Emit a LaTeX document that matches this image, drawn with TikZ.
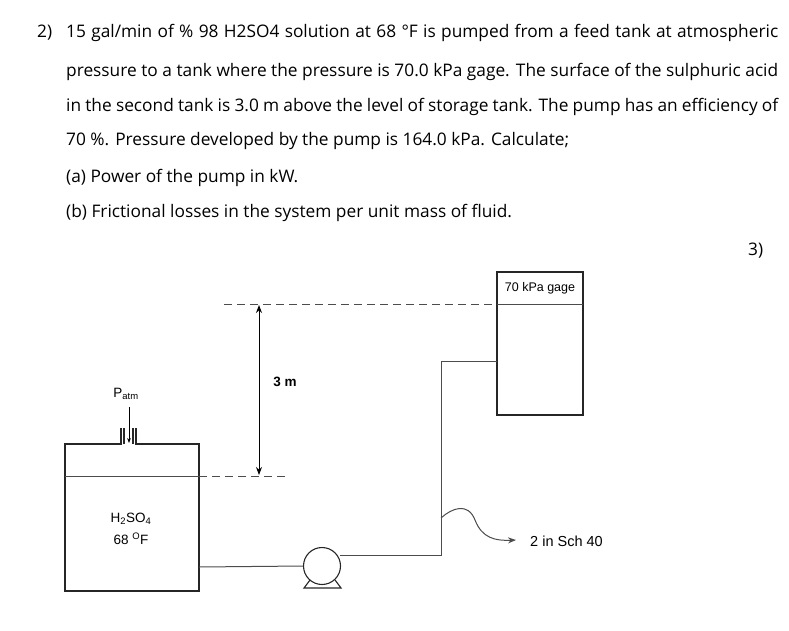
\documentclass[tikz,border=0pt]{standalone}
\usepackage{fontspec}
\setmainfont{Open Sans}
\newfontfamily\arial{Liberation Sans}
\usetikzlibrary{arrows.meta}
\begin{document}
\begin{tikzpicture}[x=1pt,y=-1pt,
  txt/.style={anchor=west,inner sep=0pt,font=\fontsize{17.3}{20}\selectfont},
  lbl/.style={inner sep=0pt,font=\arial\fontsize{13.5}{15}\selectfont},
  pipe/.style={draw=black!70,line width=1pt},
  dashln/.style={draw=black!70,dash pattern=on 8pt off 5pt,line width=1pt},
  box/.style={draw=black!85,line width=1.1pt}]
\useasboundingbox (0,0) rectangle (789,631);
\node[txt] (n2) at (37,33) {2)};
\node[txt] (l1) at (66,33) {\makebox[712pt][s]{15 gal/min of \% 98 H2SO4 solution at 68 °F is pumped from a feed tank at atmospheric}};
\node[txt] (l2) at (66,72) {\makebox[712pt][s]{pressure to a tank where the pressure is 70.0 kPa gage. The surface of the sulphuric acid}};
\node[txt] (l3) at (66,107) {\makebox[712pt][s]{in the second tank is 3.0 m above the level of storage tank. The pump has an efficiency of}};
\node[txt] (l4) at (66,141) {70 \%. Pressure developed by the pump is 164.0 kPa. Calculate;};
\node[txt] (l5) at (66,178) {(a) Power of the pump in kW.};
\node[txt] (l6) at (66,213) {(b) Frictional losses in the system per unit mass of fluid.};
\node[txt] (n3) at (748,251) {3)};
% left tank
\draw[box] (65,444) rectangle (199,591);
\draw[pipe] (65,476) -- (199,476);
\draw[draw=white,line width=2pt] (122,444) -- (135,444);
\draw[box] (121,444) -- (121,428) (124,444)--(124,428) (133,444)--(133,428) (136,444)--(136,428);
\node[lbl] (patm) at (126,394) {P\textsubscript{atm}};
\coordinate (pa) at (129,407);
\coordinate (pb) at (129,443);
\draw[-{Stealth[length=5pt]},line width=0.9pt] (pa) -- (pb);
\node[lbl] (acid) at (131,519) {H\textsubscript{2}SO\textsubscript{4}};
\node[lbl] (temp) at (131,539) {68 \textsuperscript{O}F};
% dashed levels
\draw[dashln] (199,476) -- (287,476);
\draw[dashln] (224,304) -- (497,304);
\coordinate (d1) at (259,305);
\coordinate (d2) at (259,475);
\draw[{Stealth[length=8pt]}-{Stealth[length=8pt]},line width=1pt] (d1) -- (d2);
\node[lbl,font=\arial\bfseries\fontsize{13.5}{15}\selectfont] (h) at (285,382) {3 m};
% right tank
\draw[box] (497,272) rectangle (583,415);
\draw[pipe] (497,304) -- (583,304);
\node[lbl,font=\arial\fontsize{12.5}{14}\selectfont] (gage) at (540,288) {70 kPa gage};
% pump
\node[circle,draw=black!85,line width=1.1pt,minimum size=37pt,inner sep=0pt] (pump) at (322,566) {};
\draw[box] (310,580) -- (304,588) -- (341,588) -- (335,580);
\draw[pipe] (199,567) -- (pump.west);
\draw[pipe] (340,555) -- (441,555) -- (441,361) -- (497,361);
% squiggle
\coordinate (s0) at (441,518);
\coordinate (s1) at (516,540);
\draw[-{Stealth[length=8pt]},draw=black!70,line width=1pt] (s0) .. controls (452,508) and (468,502) .. (475,520) .. controls (482,538) and (495,541) .. (s1);
\node[lbl,anchor=west,font=\arial\fontsize{14.5}{16}\selectfont] (sch) at (530,541) {2 in Sch 40};
\end{tikzpicture}
\end{document}
